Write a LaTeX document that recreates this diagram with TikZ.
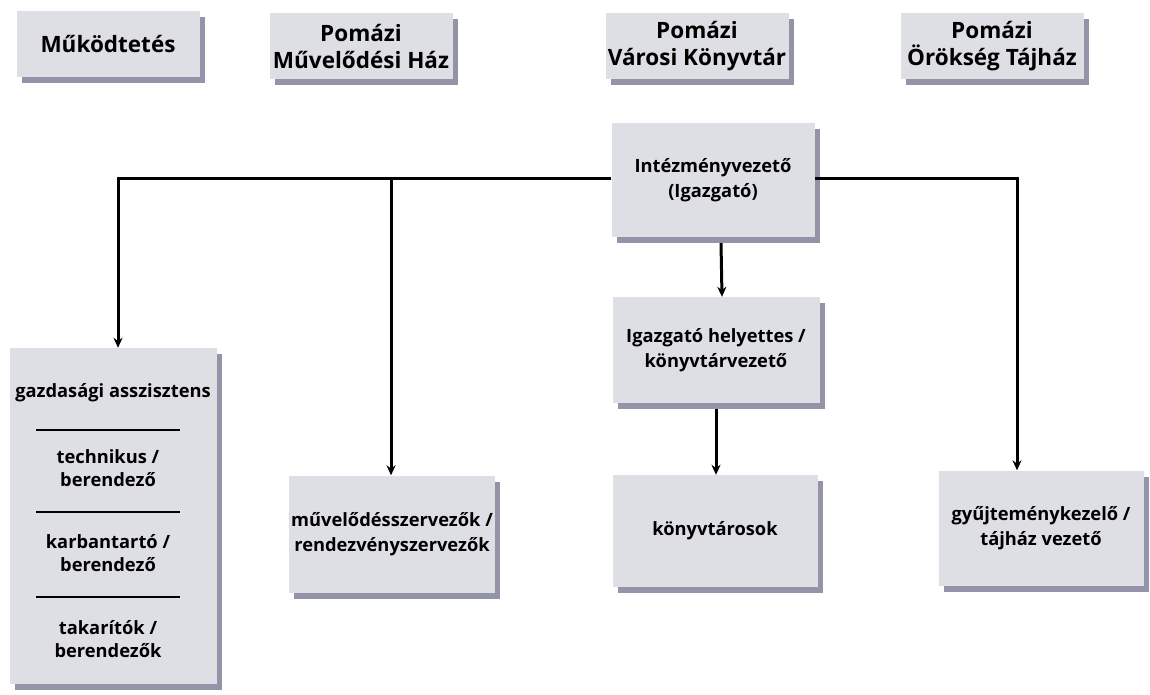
\documentclass[tikz,border=0pt]{standalone}
\usepackage{fontspec}
\setmainfont{Open Sans}
\usetikzlibrary{arrows.meta,shadows}

\definecolor{lap}{HTML}{DEDEE5}
\definecolor{perem}{HTML}{9494A8}

\tikzset{
  blokk/.style={fill=lap, inner sep=2pt, align=center,
    drop shadow={shadow xshift=5pt, shadow yshift=-6pt, fill=perem, opacity=1}},
  fejlec/.style={blokk, minimum width=183pt, minimum height=66pt,
    font=\fontsize{22.5}{27}\selectfont\bfseries},
  munkakor/.style={blokk, minimum width=205pt, minimum height=112pt,
    font=\fontsize{18.3}{25}\selectfont\bfseries},
  belso/.style={font=\fontsize{18.3}{23}\selectfont\bfseries, align=center},
  nyil/.style={line width=3pt, -{Stealth[length=10pt,width=9pt]}},
  elvalaszto/.style={line width=1.8pt}
}

\begin{document}
\begin{tikzpicture}[x=1pt, y=-1pt]
  \useasboundingbox (0,0) rectangle (1150,694);

  % felso sor
  \node[fejlec] (mukod)  at (108,44) {Működtetés};
  \node[fejlec] (muvhaz) at (361,46) {Pomázi\\Művelődési Ház};
  \node[fejlec] (vkonyv) at (697,46) {Pomázi\\Városi Könyvtár};
  \node[fejlec] (tajhaz) at (992,46) {Pomázi\\Örökség Tájház};

  % szervezet
  \node[munkakor, minimum width=203pt, minimum height=114pt] (vezeto) at (713,180) {Intézményvezető\\(Igazgató)};
  \node[munkakor, minimum width=207pt, minimum height=106pt] (helyettes) at (716,350) {Igazgató helyettes /\\könyvtárvezető};
  \node[munkakor] (konyvtaros) at (715,531) {könyvtárosok};
  \node[munkakor, minimum height=117pt] (muvszerv) at (392,534) {művelődésszervezők /\\rendezvényszervezők};
  \node[munkakor, minimum height=115pt] (gyujt) at (1041,528) {gyűjteménykezelő /\\tájház vezető};
  \node[munkakor, minimum width=207pt, minimum height=336pt] (gazd) at (113,516) {};

  % gazdasagi blokk belseje
  \node[belso] (asszisztens) at (113,393) {gazdasági asszisztens};
  \node[belso] (technikus) at (108,468) {technikus /\\berendező};
  \node[belso] (karbantarto) at (108,553) {karbantartó /\\berendező};
  \node[belso] (takarito) at (108,639) {takarítók /\\berendezők};
  \draw[elvalaszto] (36,430) -- (180,430);
  \draw[elvalaszto] (36,512) -- (180,512);
  \draw[elvalaszto] (36,597) -- (180,597);

  % kapcsolatok
  \draw[nyil] ([yshift=2pt]vezeto.west) -| ([xshift=5pt]gazd.north);
  \draw[nyil] ([yshift=2pt]vezeto.west) -| ([xshift=-1pt]muvszerv.north);
  \draw[nyil] ([yshift=2pt]vezeto.east) -| ([xshift=-24pt]gyujt.north);
  \draw[nyil] ([xshift=8pt,yshift=-6pt]vezeto.south) -- ([xshift=6pt]helyettes.north);
  \draw[nyil] ([yshift=-6pt]helyettes.south) -- ([xshift=1pt]konyvtaros.north);
\end{tikzpicture}
\end{document}
